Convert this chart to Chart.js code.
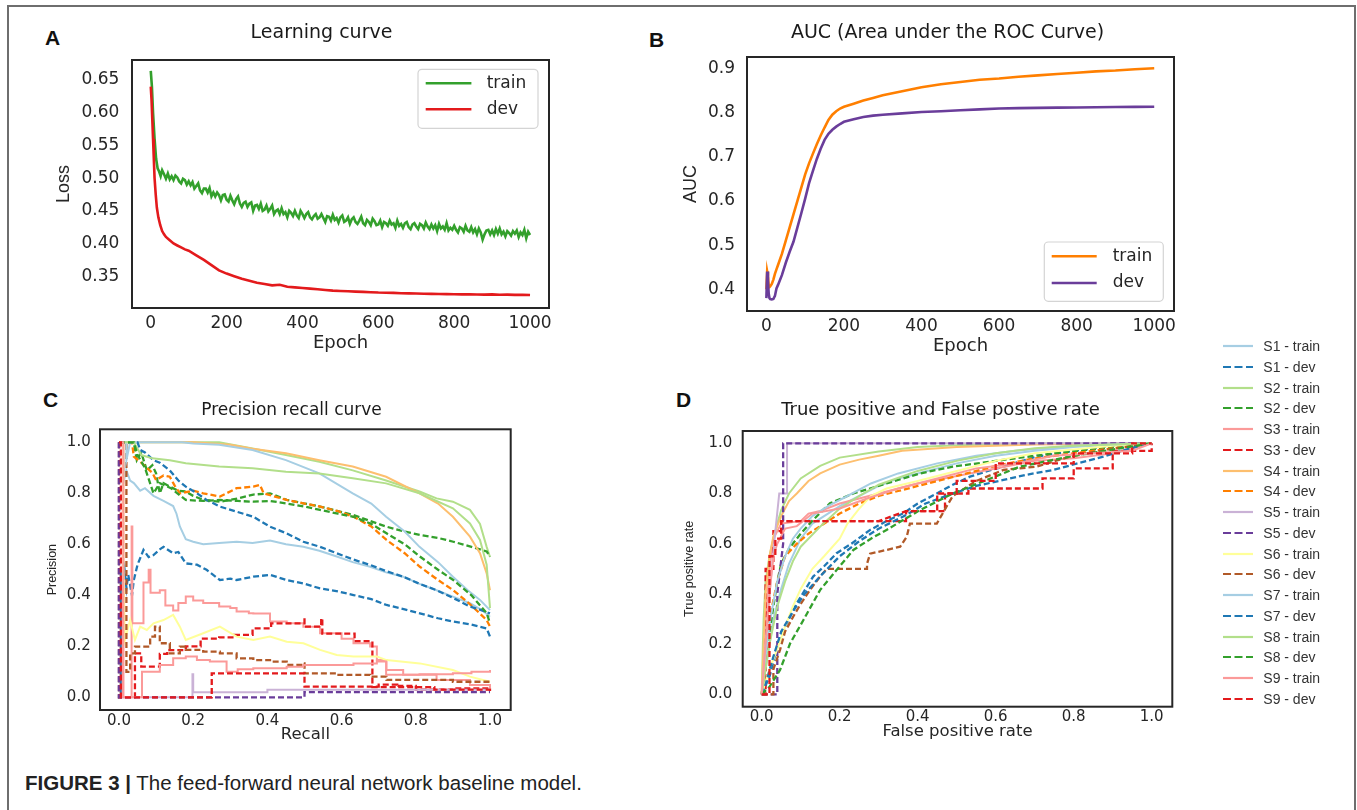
<!DOCTYPE html>
<html>
<head>
<meta charset="utf-8">
<script src="https://cdn.jsdelivr.net/npm/chart.js@4.4.0/dist/chart.umd.min.js"></script>
<style>
  body { margin: 0; width: 1357px; height: 810px; overflow: hidden; position: relative; background: #fff; font-family: "Liberation Sans", Arial, sans-serif; }
  .frame { position: absolute; left: 7px; top: 5px; width: 1349px; height: 900px; border: 2px solid #6e6e6e; box-sizing: border-box; }
  canvas { position: absolute; }
  .tag { position: absolute; font: bold 21px/21px "Liberation Sans", Arial, sans-serif; color: #111; }
  .caption { position: absolute; left: 25px; top: 773px; font: 20.5px/20.5px "Liberation Sans", Arial, sans-serif; color: #222; white-space: nowrap; }
  .legrow { position: absolute; font: 14px/20px "Liberation Sans", Arial, sans-serif; color: #333; white-space: nowrap; }
</style>
</head>
<body>
<div class="frame"></div>
<div class="tag" style="left:45px;top:27px">A</div>
<div class="tag" style="left:649px;top:29px">B</div>
<div class="tag" style="left:43px;top:389px">C</div>
<div class="tag" style="left:676px;top:389px">D</div>
<canvas id="chartA"></canvas>
<canvas id="chartB"></canvas>
<canvas id="chartC"></canvas>
<canvas id="chartD"></canvas>
<div id="legendD"></div>
<div class="caption"><b>FIGURE 3 |</b> The feed-forward neural network baseline model.</div>

<script>
// ---- A: learning curve ----
const epochTrain = [0, 3, 6, 10, 14, 18, 22, 26, 30, 35, 40, 45, 50, 55, 60, 65, 70, 75, 80, 85, 90, 95,
  100, 105, 110, 115, 120, 125, 130, 135, 140, 145, 150, 155, 160, 165, 170, 175, 180, 185, 190, 195,
  200, 205, 210, 215, 220, 225, 230, 235, 240, 245, 250, 255, 260, 265, 270, 275, 280, 285, 290, 295,
  300, 305, 310, 315, 320, 325, 330, 335, 340, 345, 350, 355, 360, 365, 370, 375, 380, 385, 390, 395,
  400, 405, 410, 415, 420, 425, 430, 435, 440, 445, 450, 455, 460, 465, 470, 475, 480, 485, 490, 495,
  500, 505, 510, 515, 520, 525, 530, 535, 540, 545, 550, 555, 560, 565, 570, 575, 580, 585, 590, 595,
  600, 605, 610, 615, 620, 625, 630, 635, 640, 645, 650, 655, 660, 665, 670, 675, 680, 685, 690, 695,
  700, 705, 710, 715, 720, 725, 730, 735, 740, 745, 750, 755, 760, 765, 770, 775, 780, 785, 790, 795,
  800, 805, 810, 815, 820, 825, 830, 835, 840, 845, 850, 855, 860, 865, 870, 875, 880, 885, 890, 895,
  900, 905, 910, 915, 920, 925, 930, 935, 940, 945, 950, 955, 960, 965, 970, 975, 980, 985, 990, 995, 1000];
const lossTrain = [0.664, 0.640, 0.600, 0.560, 0.530, 0.515, 0.510, 0.503, 0.512, 0.506, 0.499, 0.507, 0.498, 0.503, 0.497, 0.504, 0.501, 0.495, 0.492, 0.499, 0.497, 0.490,
  0.495, 0.489, 0.494, 0.484, 0.488, 0.492, 0.481, 0.477, 0.484, 0.484, 0.478, 0.485, 0.472, 0.478, 0.472, 0.478, 0.474, 0.466, 0.474, 0.475,
  0.467, 0.464, 0.473, 0.466, 0.460, 0.468, 0.472, 0.461, 0.456, 0.462, 0.464, 0.456, 0.461, 0.463, 0.450, 0.458, 0.459, 0.453, 0.461, 0.450,
  0.452, 0.458, 0.449, 0.453, 0.458, 0.445, 0.450, 0.452, 0.445, 0.454, 0.445, 0.448, 0.440, 0.450, 0.447, 0.442, 0.450, 0.443, 0.439, 0.450,
  0.445, 0.439, 0.445, 0.448, 0.440, 0.437, 0.442, 0.445, 0.438, 0.440, 0.445, 0.439, 0.433, 0.442, 0.441, 0.435, 0.444, 0.436, 0.439, 0.432,
  0.440, 0.443, 0.433, 0.435, 0.440, 0.430, 0.437, 0.440, 0.433, 0.430, 0.435, 0.441, 0.431, 0.428, 0.436, 0.433, 0.428, 0.438, 0.434, 0.428,
  0.429, 0.435, 0.425, 0.433, 0.431, 0.427, 0.435, 0.429, 0.431, 0.424, 0.435, 0.427, 0.430, 0.424, 0.431, 0.433, 0.425, 0.422, 0.429, 0.431,
  0.426, 0.422, 0.430, 0.428, 0.423, 0.432, 0.426, 0.422, 0.429, 0.423, 0.428, 0.419, 0.430, 0.423, 0.426, 0.421, 0.431, 0.420, 0.424, 0.421,
  0.427, 0.421, 0.417, 0.425, 0.423, 0.418, 0.427, 0.420, 0.418, 0.425, 0.417, 0.422, 0.414, 0.423, 0.417, 0.406, 0.414, 0.420, 0.421, 0.414,
  0.420, 0.413, 0.422, 0.415, 0.423, 0.414, 0.418, 0.411, 0.419, 0.416, 0.412, 0.419, 0.415, 0.420, 0.410, 0.417, 0.413, 0.421, 0.408, 0.418, 0.413];
const epochDev = [0, 2, 4, 6, 8, 10, 13, 16, 20, 25, 30, 35, 40, 50, 60, 70, 80, 90, 100,
  120, 140, 160, 180, 200, 220, 240, 260, 280, 300, 320, 340, 360, 380, 400, 420, 440, 460, 480, 500,
  520, 540, 560, 580, 600, 620, 640, 660, 680, 700, 720, 740, 760, 780, 800, 820, 840, 860, 880, 900,
  920, 940, 960, 980, 1000];
const lossDev = [0.640, 0.620, 0.590, 0.560, 0.530, 0.500, 0.475, 0.455, 0.440, 0.428, 0.419, 0.414, 0.410, 0.405, 0.400, 0.397, 0.394, 0.391, 0.389,
  0.382, 0.375, 0.367, 0.359, 0.354, 0.350, 0.346, 0.343, 0.340, 0.338, 0.336, 0.337, 0.334, 0.333, 0.332, 0.331, 0.330, 0.329, 0.328, 0.3275,
  0.327, 0.3265, 0.326, 0.3255, 0.325, 0.3248, 0.3245, 0.324, 0.3238, 0.3235, 0.3233, 0.323, 0.3228, 0.3226, 0.3224, 0.3222, 0.3225, 0.322, 0.3218, 0.3222,
  0.3216, 0.3218, 0.3214, 0.3216, 0.3213];
const lossTicksY = [0.35, 0.40, 0.45, 0.50, 0.55, 0.60, 0.65];
const epochTicks = [0, 200, 400, 600, 800, 1000];

// ---- B: AUC ----
const epochAuc = [0, 2, 4, 6, 8, 10, 14, 18, 22, 26, 30, 40, 50, 60, 70, 80, 90, 100, 110, 120, 130, 140, 150, 160, 170, 180, 190, 200,
  225, 250, 275, 300, 350, 400, 450, 500, 550, 600, 650, 700, 750, 800, 850, 900, 950, 1000];
const aucTrain = [0.400, 0.440, 0.430, 0.406, 0.405, 0.407, 0.412, 0.422, 0.435, 0.445, 0.455, 0.480, 0.510, 0.540, 0.570, 0.600, 0.630, 0.660,
  0.685, 0.707, 0.728, 0.748, 0.766, 0.783, 0.795, 0.803, 0.809, 0.813,
  0.820, 0.827, 0.833, 0.839, 0.848, 0.857, 0.864, 0.869, 0.874, 0.877, 0.881, 0.884, 0.887, 0.890, 0.893, 0.895, 0.898, 0.900];
const aucDev = [0.380, 0.440, 0.420, 0.390, 0.380, 0.378, 0.377, 0.378, 0.385, 0.402, 0.410, 0.432, 0.460, 0.485, 0.508, 0.540, 0.572, 0.605,
  0.640, 0.668, 0.695, 0.718, 0.738, 0.752, 0.761, 0.768, 0.774, 0.779,
  0.785, 0.790, 0.793, 0.795, 0.798, 0.801, 0.803, 0.805, 0.807, 0.809, 0.810, 0.8105, 0.811, 0.8115, 0.812, 0.8125, 0.8128, 0.813];
const aucTicksY = [0.4, 0.5, 0.6, 0.7, 0.8, 0.9];

// ---- C / D: per-series curves ----
const seriesNames = ['S1 - train', 'S1 - dev', 'S2 - train', 'S2 - dev', 'S3 - train', 'S3 - dev', 'S4 - train', 'S4 - dev', 'S5 - train',
  'S5 - dev', 'S6 - train', 'S6 - dev', 'S7 - train', 'S7 - dev', 'S8 - train', 'S8 - dev', 'S9 - train', 'S9 - dev'];
const seriesColors = ['#a6cee3', '#1f78b4', '#b2df8a', '#33a02c', '#fb9a99', '#e31a1c', '#fdbf6f', '#ff7f00', '#cab2d6',
  '#6a3d9a', '#ffff99', '#b15928', '#a6cee3', '#1f78b4', '#b2df8a', '#33a02c', '#fb9a99', '#e31a1c'];
const unitTicks = [0, 0.2, 0.4, 0.6, 0.8, 1.0];

// precision-recall: [recall, precision]
const prS1Train = [[0,1],[0.01,1],[0.015,0.86],[0.02,0.89],[0.03,0.85],[0.04,0.84],[0.057,0.81],[0.07,0.82],[0.093,0.79],[0.12,0.77],[0.146,0.75],[0.155,0.72],[0.164,0.67],[0.18,0.62],[0.2,0.61],[0.227,0.60],[0.27,0.605],[0.317,0.61],[0.36,0.605],[0.407,0.615],[0.45,0.60],[0.497,0.59],[0.54,0.575],[0.587,0.552],[0.63,0.53],[0.677,0.512],[0.72,0.49],[0.766,0.473],[0.81,0.445],[0.856,0.42],[0.9,0.395],[0.946,0.369],[0.98,0.34],[1.0,0.316]];
const prS1Dev = [[0,1],[0,0],[0.005,0],[0.005,0.5],[0.01,0.45],[0.015,0.5],[0.02,0.43],[0.025,0.48],[0.03,0.44],[0.035,0.40],[0.04,0.46],[0.05,0.52],[0.066,0.578],[0.08,0.55],[0.093,0.558],[0.11,0.58],[0.12,0.59],[0.146,0.565],[0.16,0.57],[0.18,0.525],[0.21,0.52],[0.236,0.50],[0.272,0.46],[0.3,0.465],[0.317,0.46],[0.362,0.473],[0.407,0.48],[0.452,0.46],[0.5,0.445],[0.542,0.427],[0.59,0.415],[0.632,0.401],[0.68,0.385],[0.721,0.362],[0.77,0.345],[0.811,0.329],[0.86,0.31],[0.901,0.297],[0.95,0.285],[0.991,0.27],[1.0,0.238]];
const prS2Train = [[0,1],[0.03,1],[0.27,1],[0.36,0.976],[0.45,0.95],[0.54,0.924],[0.63,0.89],[0.72,0.85],[0.81,0.807],[0.856,0.78],[0.9,0.767],[0.946,0.735],[0.973,0.68],[0.991,0.59],[1.0,0.55]];
const prS2Dev = [[0,1],[0.04,1],[0.048,0.93],[0.06,0.96],[0.075,0.89],[0.09,0.91],[0.10,0.878],[0.11,0.80],[0.12,0.84],[0.137,0.826],[0.16,0.81],[0.18,0.807],[0.2,0.79],[0.227,0.774],[0.272,0.767],[0.32,0.78],[0.362,0.795],[0.407,0.80],[0.452,0.774],[0.5,0.76],[0.542,0.748],[0.59,0.73],[0.632,0.715],[0.68,0.69],[0.721,0.669],[0.77,0.65],[0.811,0.637],[0.86,0.625],[0.901,0.61],[0.95,0.59],[0.991,0.572],[1.0,0.552]];
const prS3Train = [[0,1],[0.01,1],[0.01,0],[0.034,0],[0.034,0.67],[0.036,0.29],[0.066,0.45],[0.08,0.5],[0.085,0.41],[0.11,0.42],[0.125,0.36],[0.146,0.34],[0.16,0.37],[0.18,0.395],[0.2,0.38],[0.227,0.37],[0.27,0.356],[0.3,0.35],[0.317,0.336],[0.35,0.33],[0.362,0.329],[0.407,0.297],[0.452,0.29],[0.497,0.277],[0.542,0.251],[0.6,0.23],[0.632,0.212],[0.677,0.199],[0.695,0.146],[0.721,0.107],[0.766,0.088],[0.856,0.068],[0.946,0.048],[1.0,0.035]];
const prS3Dev = [[0,1],[0,0],[0.043,0],[0.043,0.172],[0.06,0.12],[0.11,0.17],[0.13,0.185],[0.18,0.2],[0.22,0.23],[0.27,0.235],[0.31,0.245],[0.36,0.27],[0.41,0.29],[0.5,0.316],[0.5,0.277],[0.545,0.277],[0.545,0.31],[0.548,0.25],[0.63,0.25],[0.635,0.22],[0.68,0.22],[0.683,0.04],[0.75,0.045],[0.8,0.03],[0.9,0.035],[1.0,0.03]];
const prS4Train = [[0,1],[0.2,1],[0.3,0.99],[0.36,0.975],[0.45,0.957],[0.54,0.93],[0.63,0.905],[0.72,0.865],[0.81,0.80],[0.86,0.76],[0.9,0.708],[0.946,0.63],[0.973,0.565],[0.991,0.486],[1.0,0.42]];
const prS4Dev = [[0,1],[0.035,1],[0.04,0.944],[0.06,0.92],[0.075,0.90],[0.09,0.88],[0.10,0.852],[0.12,0.87],[0.137,0.865],[0.15,0.83],[0.164,0.80],[0.2,0.81],[0.227,0.80],[0.272,0.787],[0.317,0.82],[0.362,0.826],[0.38,0.833],[0.39,0.80],[0.452,0.774],[0.5,0.76],[0.542,0.748],[0.59,0.73],[0.632,0.708],[0.68,0.67],[0.721,0.617],[0.77,0.565],[0.811,0.512],[0.86,0.46],[0.901,0.42],[0.95,0.36],[0.991,0.303],[1.0,0.277]];
const prS5Train = [[0,0],[0.198,0],[0.198,0.09],[0.2,0.02],[0.4,0.02],[0.4,0.03],[0.5,0.03],[1.0,0.03]];
const prS5Dev = [[0,1],[0,0],[0.5,0],[0.5,0.02],[1.0,0.02]];
const prS6Train = [[0,1],[0.012,1],[0.012,0.5],[0.016,0.225],[0.03,0.303],[0.043,0.225],[0.057,0.277],[0.075,0.264],[0.093,0.29],[0.12,0.303],[0.146,0.323],[0.164,0.277],[0.18,0.225],[0.227,0.251],[0.272,0.277],[0.317,0.238],[0.362,0.225],[0.407,0.238],[0.452,0.218],[0.497,0.212],[0.542,0.186],[0.587,0.166],[0.632,0.16],[0.695,0.16],[0.721,0.146],[0.811,0.133],[0.9,0.107],[0.946,0.081],[1.0,0.061]];
const prS6Dev = [[0,1],[0.02,1],[0.02,0.1],[0.03,0.172],[0.043,0.199],[0.084,0.238],[0.097,0.277],[0.11,0.212],[0.137,0.172],[0.164,0.199],[0.18,0.186],[0.227,0.179],[0.272,0.172],[0.317,0.153],[0.362,0.146],[0.407,0.14],[0.452,0.127],[0.497,0.133],[0.5,0.094],[0.587,0.088],[0.677,0.081],[0.721,0.068],[0.9,0.061],[1.0,0.061]];
const prS7Train = [[0,1],[0.02,1],[0.02,0.93],[0.03,1],[0.17,1],[0.2,0.995],[0.27,0.99],[0.36,0.97],[0.45,0.93],[0.54,0.878],[0.63,0.80],[0.68,0.76],[0.72,0.708],[0.77,0.65],[0.81,0.59],[0.86,0.53],[0.9,0.473],[0.94,0.42],[0.973,0.382],[1.0,0.342]];
const prS7Dev = [[0,1],[0.05,1],[0.057,0.97],[0.07,0.96],[0.093,0.93],[0.11,0.92],[0.137,0.89],[0.16,0.85],[0.18,0.826],[0.21,0.80],[0.236,0.774],[0.272,0.748],[0.317,0.728],[0.362,0.708],[0.407,0.669],[0.452,0.643],[0.497,0.61],[0.542,0.59],[0.587,0.565],[0.632,0.54],[0.677,0.519],[0.72,0.495],[0.766,0.473],[0.81,0.445],[0.856,0.42],[0.9,0.39],[0.946,0.356],[0.98,0.34],[1.0,0.329]];
const prS8Train = [[0,1],[0.04,1],[0.06,0.95],[0.09,0.937],[0.137,0.93],[0.18,0.918],[0.27,0.905],[0.36,0.898],[0.45,0.885],[0.54,0.878],[0.63,0.859],[0.72,0.839],[0.81,0.80],[0.9,0.741],[0.946,0.682],[0.973,0.617],[0.991,0.52],[1.0,0.35]];
const prS8Dev = [[0,1],[0.04,1],[0.05,0.95],[0.07,0.9],[0.093,0.80],[0.11,0.84],[0.14,0.82],[0.18,0.774],[0.227,0.77],[0.272,0.774],[0.32,0.77],[0.362,0.767],[0.407,0.77],[0.452,0.76],[0.5,0.748],[0.542,0.735],[0.59,0.72],[0.632,0.708],[0.68,0.68],[0.721,0.643],[0.77,0.60],[0.811,0.552],[0.86,0.50],[0.901,0.46],[0.95,0.40],[0.991,0.33],[1.0,0.29]];
const prS9Train = [[0,1],[0.012,1],[0.012,0],[0.06,0],[0.062,0.1],[0.11,0.127],[0.146,0.153],[0.18,0.16],[0.21,0.146],[0.245,0.14],[0.29,0.10],[0.32,0.11],[0.362,0.114],[0.452,0.12],[0.497,0.127],[0.632,0.133],[0.695,0.14],[0.72,0.088],[0.81,0.09],[0.9,0.094],[0.95,0.1],[1.0,0.107]];
const prS9Dev = [[0,1],[0.005,1],[0.005,0],[0.25,0],[0.25,0.094],[0.5,0.094],[0.5,0.042],[0.68,0.042],[0.7,0.05],[0.75,0.04],[0.85,0.03],[1.0,0.025]];
const prCurves = [prS1Train, prS1Dev, prS2Train, prS2Dev, prS3Train, prS3Dev, prS4Train, prS4Dev, prS5Train,
  prS5Dev, prS6Train, prS6Dev, prS7Train, prS7Dev, prS8Train, prS8Dev, prS9Train, prS9Dev];
const prStepped = [4, 5, 8, 9, 11, 16, 17];

// ROC: [false positive rate, true positive rate]
const rocS1Train = [[0,0],[0.01,0.1],[0.02,0.2],[0.03,0.3],[0.05,0.42],[0.07,0.52],[0.1,0.62],[0.13,0.68],[0.16,0.71],[0.2,0.75],[0.25,0.79],[0.3,0.83],[0.35,0.86],[0.4,0.88],[0.5,0.92],[0.6,0.95],[0.7,0.97],[0.8,0.985],[0.9,0.995],[1,1]];
const rocS1Dev = [[0,0],[0.02,0.07],[0.047,0.23],[0.07,0.3],[0.09,0.363],[0.132,0.469],[0.16,0.51],[0.192,0.562],[0.23,0.6],[0.278,0.655],[0.32,0.69],[0.363,0.721],[0.4,0.76],[0.449,0.80],[0.49,0.835],[0.534,0.867],[0.58,0.89],[0.62,0.907],[0.705,0.947],[0.8,0.97],[0.9,0.99],[1,1]];
const rocS2Train = [[0,0],[0.003,0.2],[0.005,0.3],[0.01,0.45],[0.02,0.55],[0.03,0.62],[0.04,0.68],[0.05,0.734],[0.07,0.80],[0.1,0.86],[0.15,0.91],[0.2,0.943],[0.3,0.967],[0.4,0.985],[0.5,0.992],[0.7,1.0],[1,1]];
const rocS2Dev = [[0,0],[0.01,0.12],[0.02,0.25],[0.03,0.35],[0.04,0.45],[0.05,0.52],[0.07,0.58],[0.1,0.64],[0.132,0.695],[0.175,0.761],[0.235,0.80],[0.32,0.84],[0.406,0.88],[0.49,0.907],[0.62,0.934],[0.748,0.96],[0.876,0.98],[1,1]];
const rocS3Train = [[0,0],[0.005,0.1],[0.01,0.3],[0.02,0.5],[0.03,0.62],[0.05,0.68],[0.1,0.69],[0.12,0.72],[0.15,0.73],[0.2,0.76],[0.25,0.78],[0.3,0.8],[0.4,0.84],[0.5,0.87],[0.6,0.9],[0.7,0.93],[0.8,0.94],[0.9,0.96],[0.95,0.98],[1,1]];
const rocS3Dev = [[0,0],[0.01,0],[0.01,0.5],[0.03,0.5],[0.03,0.65],[0.05,0.65],[0.05,0.69],[0.37,0.69],[0.37,0.73],[0.47,0.73],[0.47,0.8],[0.53,0.8],[0.53,0.82],[0.72,0.82],[0.72,0.86],[0.8,0.86],[0.8,0.9],[0.9,0.9],[0.9,0.97],[1,0.97],[1,1]];
const rocS4Train = [[0,0],[0.005,0.2],[0.01,0.4],[0.02,0.55],[0.03,0.63],[0.05,0.71],[0.07,0.77],[0.09,0.8],[0.12,0.85],[0.15,0.88],[0.2,0.915],[0.25,0.935],[0.3,0.95],[0.36,0.97],[0.5,0.985],[0.7,0.995],[1,1]];
const rocS4Dev = [[0,0],[0.01,0.15],[0.02,0.3],[0.04,0.45],[0.06,0.55],[0.09,0.6],[0.12,0.64],[0.15,0.67],[0.2,0.72],[0.25,0.76],[0.3,0.79],[0.35,0.81],[0.4,0.83],[0.5,0.87],[0.6,0.91],[0.7,0.94],[0.8,0.96],[0.9,0.98],[1,1]];
const rocS5Train = [[0,0],[0.02,0.4],[0.035,0.65],[0.045,0.8],[0.065,0.8],[0.065,1.0],[1,1]];
const rocS5Dev = [[0,0],[0.04,0],[0.04,0.4],[0.055,0.6],[0.055,1.0],[1,1]];
const rocS6Train = [[0,0],[0.02,0.1],[0.04,0.18],[0.06,0.27],[0.08,0.35],[0.1,0.42],[0.13,0.5],[0.16,0.55],[0.2,0.62],[0.22,0.68],[0.25,0.74],[0.28,0.79],[0.32,0.82],[0.4,0.85],[0.5,0.89],[0.6,0.93],[0.7,0.96],[0.8,0.975],[0.9,0.99],[1,1]];
const rocS6Dev = [[0,0],[0.03,0],[0.03,0.1],[0.047,0.177],[0.06,0.25],[0.081,0.31],[0.1,0.36],[0.124,0.416],[0.15,0.47],[0.167,0.5],[0.27,0.5],[0.27,0.52],[0.278,0.56],[0.355,0.588],[0.372,0.628],[0.38,0.68],[0.449,0.68],[0.474,0.748],[0.49,0.79],[0.55,0.85],[0.62,0.894],[0.705,0.907],[0.79,0.947],[0.876,0.973],[1,1]];
const rocS7Train = [[0,0],[0.01,0.15],[0.02,0.28],[0.04,0.45],[0.06,0.55],[0.08,0.62],[0.1,0.66],[0.13,0.71],[0.17,0.75],[0.22,0.79],[0.28,0.84],[0.35,0.88],[0.45,0.92],[0.55,0.95],[0.65,0.97],[0.8,0.99],[1,1]];
const rocS7Dev = [[0,0],[0.01,0.04],[0.03,0.15],[0.05,0.25],[0.08,0.33],[0.11,0.4],[0.15,0.47],[0.2,0.55],[0.25,0.61],[0.3,0.66],[0.363,0.708],[0.42,0.76],[0.49,0.80],[0.55,0.83],[0.62,0.854],[0.68,0.875],[0.748,0.894],[0.81,0.92],[0.876,0.947],[0.944,0.98],[1,1]];
const rocS8Train = [[0,0],[0.01,0.1],[0.02,0.2],[0.04,0.35],[0.06,0.45],[0.08,0.53],[0.1,0.588],[0.15,0.668],[0.2,0.74],[0.25,0.79],[0.3,0.835],[0.4,0.89],[0.5,0.93],[0.6,0.96],[0.7,0.98],[0.8,0.99],[1,1]];
const rocS8Dev = [[0,0],[0.02,0.03],[0.047,0.097],[0.073,0.203],[0.107,0.296],[0.15,0.416],[0.192,0.495],[0.235,0.575],[0.28,0.62],[0.32,0.655],[0.406,0.734],[0.49,0.80],[0.577,0.854],[0.662,0.907],[0.79,0.947],[0.919,0.98],[1,1]];
const rocS9Train = [[0,0],[0.01,0.2],[0.02,0.4],[0.03,0.55],[0.04,0.6],[0.06,0.66],[0.09,0.67],[0.13,0.72],[0.2,0.74],[0.27,0.78],[0.35,0.82],[0.45,0.86],[0.55,0.9],[0.65,0.92],[0.75,0.95],[0.85,0.96],[0.95,0.97],[1,1]];
const rocS9Dev = [[0,0],[0.02,0],[0.02,0.55],[0.035,0.55],[0.035,0.62],[0.05,0.62],[0.05,0.69],[0.3,0.69],[0.37,0.73],[0.45,0.73],[0.45,0.8],[0.5,0.8],[0.5,0.85],[0.6,0.85],[0.6,0.92],[0.8,0.92],[0.8,0.96],[0.95,0.96],[0.95,1],[1,1]];
const rocCurves = [rocS1Train, rocS1Dev, rocS2Train, rocS2Dev, rocS3Train, rocS3Dev, rocS4Train, rocS4Dev, rocS5Train,
  rocS5Dev, rocS6Train, rocS6Dev, rocS7Train, rocS7Dev, rocS8Train, rocS8Dev, rocS9Train, rocS9Dev];

// ---- panel geometry (page pixels) ----
const geomA = { x: 25, y: 10, w: 593, h: 350, area: [132, 60, 549, 308], titleY: 33, titleSize: 19,
  yLabelX: 63.7, yLabelSize: 18, yTickRight: 119.3, xTickY: 323.3, xLabelY: 343.3, xLabelSize: 18, tickSize: 17,
  xMin: -49.5, xMax: 1050, yMin: 0.3014, yMax: 0.6806, xDec: 0, yDec: 2 };
const geomB = { x: 640, y: 10, w: 615, h: 350, area: [747, 57, 1174, 311], titleY: 33, titleSize: 19,
  yLabelX: 690.8, yLabelSize: 18, yTickRight: 735, xTickY: 326.7, xLabelY: 346.7, xLabelSize: 18, tickSize: 17,
  xMin: -50, xMax: 1051, yMin: 0.3509, yMax: 0.9256, xDec: 0, yDec: 1 };
const geomC = { x: 20, y: 370, w: 543, h: 380, area: [100, 429.3, 510.7, 710], titleY: 410.7, titleSize: 17,
  yLabelX: 52.5, yLabelSize: 12.5, yTickRight: 90.7, xTickY: 721, xLabelY: 735, xLabelSize: 16.5, tickSize: 15,
  xMin: -0.0512, xMax: 1.0558, yMin: -0.0498, yMax: 1.051, xDec: 1, yDec: 1 };
const geomD = { x: 670, y: 370, w: 541, h: 380, area: [742.7, 431, 1172.3, 706.7], titleY: 410.7, titleSize: 18,
  yLabelX: 690, yLabelSize: 12.5, yTickRight: 732.3, xTickY: 717.3, xLabelY: 731.7, xLabelSize: 16.5, tickSize: 15,
  xMin: -0.0487, xMax: 1.0528, yMin: -0.0494, yMax: 1.049, xDec: 1, yDec: 1 };

const INK = '#262626';

const framePlugin = {
  id: 'frame',
  afterDatasetsDraw(chart) {
    const { ctx, chartArea: a } = chart;
    ctx.save();
    ctx.strokeStyle = INK;
    ctx.lineWidth = 2;
    ctx.strokeRect(a.left, a.top, a.right - a.left, a.bottom - a.top);
    ctx.restore();
  }
};

// matplotlib style legend box inside the axes
const boxLegend = {
  id: 'boxLegend',
  afterDraw(chart, args, o) {
    if (!o.display) return;
    const { ctx, chartArea: a } = chart;
    const left = a.right - o.right - o.w;
    const top = o.anchor === 'ne' ? a.top + o.top : a.bottom - o.bottom - o.h;
    ctx.save();
    ctx.beginPath();
    ctx.roundRect(left, top, o.w, o.h, 4);
    ctx.fillStyle = 'rgba(255,255,255,0.85)';
    ctx.fill();
    ctx.strokeStyle = '#d4d4d4';
    ctx.lineWidth = 1.2;
    ctx.stroke();
    chart.data.datasets.forEach((ds, i) => {
      const y = top + o.row0 + i * o.rowGap;
      ctx.beginPath();
      ctx.moveTo(left + o.sx0, y);
      ctx.lineTo(left + o.sx1, y);
      ctx.strokeStyle = ds.borderColor;
      ctx.lineWidth = ds.borderWidth;
      ctx.stroke();
      ctx.fillStyle = INK;
      ctx.font = '17px "DejaVu Sans"';
      ctx.textBaseline = 'middle';
      ctx.fillText(ds.label, left + o.tx, y);
    });
    ctx.restore();
  }
};

function makeChart(id, g, title, xLabel, yLabel, datasets, xTicks, yTicks, legendOpts) {
  const canvas = document.getElementById(id);
  canvas.width = g.w;
  canvas.height = g.h;
  canvas.style.left = g.x + 'px';
  canvas.style.top = g.y + 'px';

  const [aL, aT, aR, aB] = g.area;
  const titleLh = g.titleSize * 1.2;
  const titlePadTop = g.titleY - g.y - titleLh / 2;
  const tickLh = g.tickSize * 1.2;

  return new Chart(canvas, {
    type: 'line',
    data: { datasets },
    options: {
      responsive: false,
      animation: false,
      events: [],
      layout: { padding: 0 },
      plugins: {
        legend: { display: false },
        tooltip: { enabled: false },
        title: {
          display: true, text: title, color: '#1a1a1a',
          font: { family: 'DejaVu Sans', size: g.titleSize, weight: 'normal' },
          padding: { top: titlePadTop, bottom: aT - g.y - titlePadTop - titleLh }
        },
        boxLegend: legendOpts || { display: false }
      },
      scales: {
        x: {
          type: 'linear', min: g.xMin, max: g.xMax, bounds: 'data',
          afterBuildTicks: s => { s.ticks = xTicks.map(v => ({ value: v })); },
          afterFit: s => { s.height = g.y + g.h - aB; },
          grid: { display: false, drawTicks: false, tickLength: 0 },
          border: { display: false },
          ticks: {
            autoSkip: false, maxRotation: 0, color: INK,
            padding: g.xTickY - aB - tickLh / 2,
            font: { family: 'DejaVu Sans', size: g.tickSize },
            callback: v => Number(v).toFixed(g.xDec)
          },
          title: {
            display: true, text: xLabel, color: INK,
            font: { family: 'DejaVu Sans', size: g.xLabelSize },
            padding: { top: 0, bottom: g.y + g.h - g.xLabelY - g.xLabelSize * 0.6 }
          }
        },
        y: {
          type: 'linear', min: g.yMin, max: g.yMax, bounds: 'data',
          afterBuildTicks: s => { s.ticks = yTicks.map(v => ({ value: v })); },
          afterFit: s => { s.width = aL - g.x; },
          grid: { display: false, drawTicks: false, tickLength: 0 },
          border: { display: false },
          ticks: {
            autoSkip: false, color: INK,
            padding: aL - g.yTickRight,
            font: { family: 'DejaVu Sans', size: g.tickSize },
            callback: v => Number(v).toFixed(g.yDec)
          },
          title: {
            display: true, text: yLabel, color: INK,
            font: { family: 'Liberation Sans', size: g.yLabelSize },
            padding: { top: g.yLabelX - g.x - g.yLabelSize * 0.6, bottom: 0 }
          }
        },
        // empty right-hand axis that only reserves the margin, so the title stays centred on the canvas
        gutter: {
          type: 'linear', position: 'right', min: 0, max: 1,
          afterFit: s => { s.width = g.x + g.w - aR; },
          grid: { display: false, drawTicks: false },
          border: { display: false },
          ticks: { display: false }
        }
      }
    },
    plugins: [framePlugin, boxLegend]
  });
}

function pairLine(xs, ys, label, color, order) {
  return {
    label, data: xs.map((x, i) => ({ x, y: ys[i] })),
    borderColor: color, borderWidth: 2.6, pointRadius: 0, tension: 0, fill: false, order
  };
}

function curveSets(curves, stepped) {
  return curves.map((pts, i) => ({
    label: seriesNames[i],
    data: pts.map(p => ({ x: p[0], y: p[1] })),
    borderColor: seriesColors[i],
    borderWidth: i % 2 ? 2.3 : 2,
    borderDash: i % 2 ? [6, 3] : [],
    stepped: stepped.includes(i) ? 'before' : false,
    pointRadius: 0, tension: 0, fill: false,
    order: curves.length - i
  }));
}

makeChart('chartA', geomA, 'Learning curve', 'Epoch', 'Loss',
  [pairLine(epochTrain, lossTrain, 'train', '#33a02c', 2), pairLine(epochDev, lossDev, 'dev', '#e31a1c', 1)],
  epochTicks, lossTicksY,
  { display: true, anchor: 'ne', right: 11, top: 9.3, w: 120, h: 59, row0: 14, rowGap: 26, sx0: 7.7, sx1: 53.4, tx: 68.7 });

makeChart('chartB', geomB, 'AUC (Area under the ROC Curve)', 'Epoch', 'AUC',
  [pairLine(epochAuc, aucTrain, 'train', '#ff7f00', 2), pairLine(epochAuc, aucDev, 'dev', '#6a3d9a', 1)],
  epochTicks, aucTicksY,
  { display: true, anchor: 'se', right: 10.7, bottom: 9.7, w: 119, h: 59.3, row0: 14.3, rowGap: 26.7, sx0: 7.4, sx1: 52.4, tx: 68.4 });

makeChart('chartC', geomC, 'Precision recall curve', 'Recall', 'Precision',
  curveSets(prCurves, prStepped), unitTicks, unitTicks, null);

makeChart('chartD', geomD, 'True positive and False postive rate', 'False positive rate', 'True positive rate',
  curveSets(rocCurves, []), unitTicks, unitTicks, null);

// shared series legend to the right of panel D
const legendBox = document.getElementById('legendD');
seriesNames.forEach((name, i) => {
  const cy = 346 + i * 20.76;
  const dash = i % 2 ? 'stroke-dasharray="8 3.5"' : '';
  const sample = document.createElement('div');
  sample.className = 'legrow';
  sample.style.left = '1222.7px';
  sample.style.top = (cy - 2) + 'px';
  sample.innerHTML = '<svg width="30" height="4" style="display:block"><line x1="0" y1="2" x2="30" y2="2" stroke="' +
    seriesColors[i] + '" stroke-width="2.2" ' + dash + '/></svg>';
  legendBox.appendChild(sample);
  const txt = document.createElement('div');
  txt.className = 'legrow';
  txt.style.left = '1263.3px';
  txt.style.top = (cy - 10) + 'px';
  txt.textContent = name;
  legendBox.appendChild(txt);
});
</script>
</body>
</html>
